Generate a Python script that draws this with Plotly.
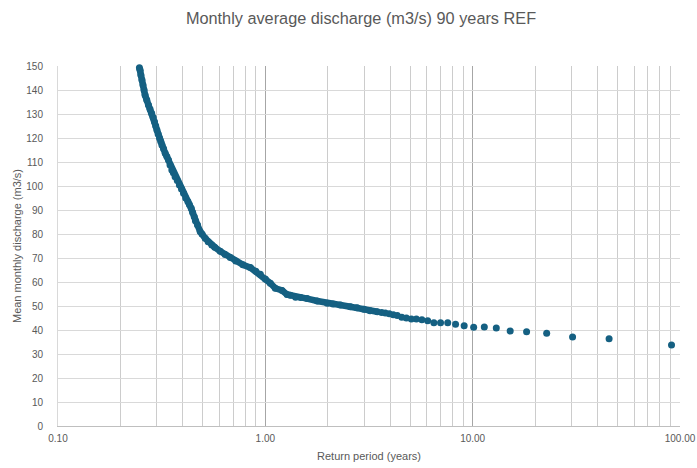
import plotly.graph_objects as go

# Sparse points (largest return periods)
sparse_T = [91.0, 45.5, 30.33, 22.75, 18.2, 15.17, 13.0, 11.38, 10.11, 9.1,
            8.27, 7.58, 7.0, 6.5, 6.07, 5.69, 5.35, 5.06, 4.79, 4.55,
            4.33, 4.14, 3.96, 3.79, 3.64]
sparse_Q = [33.7, 36.4, 37.1, 38.6, 39.3, 39.6, 40.8, 41.2, 41.1, 41.8,
            42.4, 43.0, 43.0, 43.0, 43.9, 44.3, 44.6, 44.6, 45.0, 45.3,
            46.0, 46.4, 46.8, 47.1, 47.3]

# Dense part of the curve (many overlapping points)
dense_T = [3.47, 3.2, 2.99, 2.77, 2.57, 2.30, 2.12, 1.99, 1.78, 1.59,
           1.48, 1.40, 1.32, 1.273, 1.204, 1.117, 1.057, 1.0, 0.946, 0.90,
           0.847, 0.78, 0.72, 0.678, 0.64, 0.606, 0.57, 0.552, 0.530, 0.513,
           0.495, 0.485, 0.471, 0.46, 0.454, 0.446, 0.439, 0.43, 0.423, 0.413,
           0.403, 0.394, 0.385, 0.376, 0.367, 0.36, 0.354, 0.347, 0.341, 0.335,
           0.329, 0.323, 0.317, 0.313, 0.309, 0.304, 0.300, 0.296, 0.292, 0.288,
           0.283, 0.278, 0.273, 0.268, 0.263, 0.260, 0.257, 0.254, 0.251, 0.249,
           0.247]
dense_Q = [47.6, 48.0, 48.6, 49.3, 49.7, 50.4, 50.8, 51.1, 52.1, 53.1,
           53.5, 53.6, 54.5, 54.8, 56.5, 57.4, 59.5, 61.3, 63.2, 64.5,
           66.0, 67.2, 68.8, 70.2, 71.5, 72.8, 74.5, 75.4, 76.8, 78.2,
           80.0, 81.0, 83.7, 85.5, 87.2, 89.0, 90.7, 92.3, 93.5, 95.0,
           97.0, 98.8, 100.4, 102.3, 103.9, 105.5, 106.7, 108.8, 110.8, 112.3,
           113.6, 115.5, 117.1, 118.5, 119.9, 121.7, 123.3, 125.0, 126.8, 128.5,
           130.3, 132.0, 133.8, 135.8, 137.9, 140.0, 142.1, 144.2, 146.2, 148.2,
           149.3]

COLOR = "#156082"
TXT = "#595959"

fig = go.Figure()
fig.add_trace(go.Scatter(x=dense_T, y=dense_Q, mode="lines+markers",
                         line=dict(color=COLOR, width=6.5),
                         marker=dict(color=COLOR, size=7),
                         cliponaxis=False, showlegend=False, hoverinfo="x+y"))
fig.add_trace(go.Scatter(x=sparse_T, y=sparse_Q, mode="markers",
                         marker=dict(color=COLOR, size=7),
                         cliponaxis=False, showlegend=False, hoverinfo="x+y"))

fig.update_layout(
    width=697, height=468,
    margin=dict(l=58, r=17, t=66, b=42),
    paper_bgcolor="white", plot_bgcolor="white",
    font=dict(family="Liberation Sans, Arial, sans-serif", color=TXT, size=10),
    title=dict(text="Monthly average discharge (m3/s) 90 years REF",
               x=361 / 697, xanchor="center", y=1 - 18 / 468, yanchor="middle",
               xref="container", yref="container",
               font=dict(size=16.3, color=TXT)),
)
fig.update_xaxes(
    type="log", range=[-1, 2], dtick=1, tickformat=".2f",
    showgrid=True, gridcolor="#a6a6a6", gridwidth=1,
    minor=dict(dtick="D1", showgrid=True, gridcolor="#cccccc", gridwidth=1),
    showline=True, linecolor="#bfbfbf", linewidth=1,
    zeroline=False, ticks="", ticklabelstandoff=3, automargin=False,
    ticklabeloverflow="allow",
    tickfont=dict(size=10, color=TXT),
    title=dict(text="Return period (years)", font=dict(size=11, color=TXT), standoff=9),
)
fig.update_yaxes(
    range=[0, 150], dtick=10,
    showgrid=True, gridcolor="#d9d9d9", gridwidth=1,
    showline=True, linecolor="#d9d9d9", linewidth=1,
    zeroline=False, ticks="", ticklabelstandoff=12, automargin=False,
    tickfont=dict(size=10, color=TXT),
    title=dict(text="Mean monthly discharge (m3/s)", font=dict(size=11, color=TXT), standoff=2),
)

fig.write_html(
    "out.html",
    config={"displayModeBar": False},
    post_script="document.body.style.margin='0';document.body.style.overflow='hidden';",
)
